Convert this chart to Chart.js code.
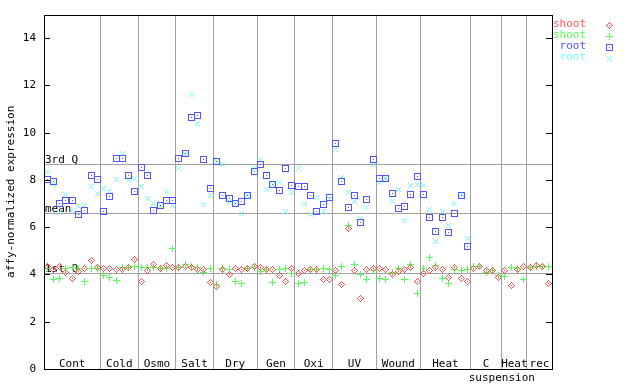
<!DOCTYPE html>
<html>
<head>
<meta charset="utf-8">
<script src="https://cdn.jsdelivr.net/npm/chart.js@4"></script>
<style>
  body { margin: 0; background: #fff; }
  #wrap { width: 640px; height: 384px; }
</style>
</head>
<body>
<div id="wrap"><canvas id="chart"></canvas></div>
<script>
// sample groups along the x axis (one sample per x step)
const groups = ['Cont', 'Cold', 'Osmo', 'Salt', 'Dry', 'Gen', 'Oxi', 'UV', 'Wound', 'Heat', 'C', 'Heat', 'rec'];
const groupSizes = [9, 6, 6, 6, 7, 6, 6, 7, 7, 8, 5, 4, 4];

const yTicks = [0, 2, 4, 6, 8, 10, 12, 14];

const refLines = [4.08, 6.61, 8.68];
const refLabels = ['1st Q', 'mean', '3rd Q'];

const shootA = [
  4.33, 4.21, 4.33, 4.08, 3.83, 4.12, 4.25, 4.59, 4.29,
  4.25, 4.25, 4.21, 4.21, 4.29, 4.63,
  3.70, 4.16, 4.42, 4.25, 4.38, 4.29,
  4.29, 4.33, 4.29, 4.21, 4.21, 3.66,
  3.49, 4.21, 4.00, 4.25, 4.21, 4.25, 4.33,
  4.29, 4.21, 4.21, 3.95, 3.70, 4.25,
  4.04, 4.16, 4.21, 4.21, 3.78, 3.78,
  4.16, 3.57, 5.94, 4.16, 2.97, 4.21, 4.25,
  4.25, 4.21, 4.00, 4.12, 4.21, 4.29, 3.70,
  4.04, 4.16, 4.29, 4.21, 3.87, 4.29, 3.83, 3.70,
  4.25, 4.33, 4.16, 4.16, 3.87,
  4.16, 3.53, 4.21, 4.33,
  4.29, 4.38, 4.33, 3.62
];
const shootB = [
  4.25, 3.78, 3.83, 4.25, 4.29, 4.25, 3.70, 4.25, 4.25,
  3.95, 3.87, 3.74, 4.29, 4.29, 4.33,
  4.29, 4.29, 4.29, 4.25, 4.25, 5.09,
  4.29, 4.42, 4.33, 4.29, 4.08, 4.25,
  3.57, 4.25, 4.21, 3.70, 3.62, 4.25, 4.29,
  4.12, 4.21, 3.66, 4.21, 4.25, 4.04,
  3.62, 3.66, 4.21, 4.21, 4.25, 4.21,
  3.95, 4.33, 6.08, 4.42, 4.00, 3.78, 4.16,
  3.83, 3.78, 4.08, 4.25, 3.78, 4.42, 3.21,
  4.25, 4.71, 4.38, 3.83, 3.62, 4.21, 4.16, 4.21,
  4.33, 4.33, 4.08, 4.16, 3.95,
  3.91, 4.29, 4.25, 3.78,
  4.29, 4.33, 4.33, 4.33
];
// root has no samples in the last three groups
const rootA = [
  8.04, 7.93, 7.00, 7.12, 7.12, 6.53, 6.70, 8.21, 8.00,
  6.65, 7.30, 8.89, 8.89, 8.21, 7.53,
  8.52, 8.21, 6.70, 6.91, 7.12, 7.12,
  8.89, 9.14, 10.66, 10.75, 8.85, 7.62,
  8.79, 7.33, 7.20, 6.99, 7.07, 7.33, 8.38,
  8.64, 8.21, 7.79, 7.54, 8.47, 7.75,
  7.71, 7.71, 7.33, 6.65, 6.95, 7.24,
  9.56, 7.92, 6.82, 7.33, 6.19, 7.16, 8.85,
  8.05, 8.05, 7.41, 6.78, 6.86, 7.37, 8.13,
  7.37, 6.40, 5.81, 6.40, 5.77, 6.57, 7.33, 5.18
];
const rootB = [
  8.33, 7.79, 6.64, 7.38, 6.71, 6.88, 6.91, 7.72, 7.41,
  7.62, 7.51, 8.02, 9.10, 8.02, 8.05,
  7.72, 7.20, 7.00, 6.88, 7.50, 6.91,
  8.47, 9.06, 11.63, 10.41, 6.95, 7.33,
  8.79, 8.64, 7.07, 7.00, 6.57, 7.33, 8.47,
  8.81, 7.58, 7.79, 7.88, 6.65, 7.46,
  8.47, 6.95, 6.53, 7.24, 6.65, 7.16,
  9.27, 8.09, 7.46, 7.07, 6.36, 6.82, 8.64,
  7.88, 8.05, 7.07, 7.58, 6.27, 7.75, 7.79,
  7.75, 6.74, 5.39, 6.65, 6.06, 6.99, 7.37, 5.51
];

const nSamples = groupSizes.reduce((a, b) => a + b, 0);
const FONT = '11px "DejaVu Sans Mono", monospace';

// little pixel markers like the gnuplot ones
function marker(kind, color) {
  const c = document.createElement('canvas');
  c.width = 7; c.height = 7;
  const g = c.getContext('2d');
  g.fillStyle = color;
  for (let y = 0; y < 7; y++) {
    for (let x = 0; x < 7; x++) {
      const dx = Math.abs(x - 3), dy = Math.abs(y - 3);
      let on = false;
      if (kind === 'diamond') on = dx + dy === 3 || (dx + dy === 1 && dx === dy) || (dx === 0 && dy === 0);
      if (kind === 'plus') on = dx === 0 || dy === 0;
      if (kind === 'square') on = dx === 3 || dy === 3 || (dx === 0 && dy === 0);
      if (kind === 'cross') on = dx === dy && dx <= 2;
      if (on) g.fillRect(x, y, 1, 1);
    }
  }
  return c;
}

const series = [
  { label: 'shoot', values: shootA, color: '#ff5252', kind: 'diamond' },
  { label: 'shoot', values: shootB, color: '#52ff52', kind: 'plus' },
  { label: 'root', values: rootA, color: '#5252ff', kind: 'square' },
  { label: 'root', values: rootB, color: '#6cffff', kind: 'cross' }
];
series.forEach(s => { s.img = marker(s.kind, s.color); });

const boundaries = [];
let acc = 0;
groupSizes.forEach(n => { acc += n; boundaries.push(acc + 0.5); });
boundaries.pop();

const extras = {
  id: 'extras',
  beforeDatasetsDraw(chart) {
    const { ctx, chartArea: a, scales: { x, y } } = chart;
    ctx.save();
    ctx.strokeStyle = '#a0a0a0';
    ctx.lineWidth = 1;
    ctx.font = FONT;
    ctx.fillStyle = '#000';
    ctx.textAlign = 'left';
    ctx.textBaseline = 'alphabetic';
    refLines.forEach((v, i) => {
      const py = Math.round(y.getPixelForValue(v)) + 0.5;
      ctx.beginPath();
      ctx.moveTo(a.left, py);
      ctx.lineTo(a.right, py);
      ctx.stroke();
      ctx.fillText(refLabels[i], a.left + 1, py - 1.5);
    });
    ctx.imageSmoothingEnabled = false;
    ctx.restore();
    ctx.imageSmoothingEnabled = false;
  },
  afterDraw(chart) {
    const { ctx, chartArea: a, scales: { x, y } } = chart;
    ctx.save();
    ctx.strokeStyle = '#000';
    ctx.lineWidth = 1;
    ctx.strokeRect(Math.round(a.left) + 0.5, Math.round(a.top) + 0.5,
      Math.round(a.right - a.left), Math.round(a.bottom - a.top));
    y.ticks.forEach(t => {
      const py = Math.round(y.getPixelForValue(t.value)) + 0.5;
      ctx.beginPath();
      ctx.moveTo(a.left, py); ctx.lineTo(a.left + 6, py);
      ctx.moveTo(a.right - 6, py); ctx.lineTo(a.right, py);
      ctx.stroke();
    });

    // group names inside the bottom of the plot
    ctx.font = FONT;
    ctx.fillStyle = '#000';
    ctx.textAlign = 'center';
    ctx.textBaseline = 'alphabetic';
    let start = 0.5;
    groupSizes.forEach((n, i) => {
      const cx = x.getPixelForValue(start + n / 2);
      ctx.fillText(groups[i], cx, a.bottom - 2);
      if (groups[i] === 'C') {
        ctx.fillText('suspension', x.getPixelForValue(start + n), a.bottom + 12);
      }
      start += n;
    });

    // legend
    ctx.textAlign = 'right';
    ctx.textBaseline = 'middle';
    series.forEach((s, i) => {
      const ry = a.top + 10 + i * 11;
      ctx.fillStyle = s.color;
      ctx.fillText(s.label, a.right + 34, ry);
      ctx.imageSmoothingEnabled = false;
      ctx.drawImage(s.img, a.right + 54, Math.round(ry) - 3);
    });
    ctx.restore();
  }
};

new Chart(document.getElementById('chart'), {
  type: 'scatter',
  data: {
    datasets: series.map(s => ({
      label: s.label,
      data: s.values.map((v, i) => ({ x: i + 1, y: v })),
      pointStyle: s.img,
      pointRadius: 3,
      borderColor: s.color,
      backgroundColor: s.color
    }))
  },
  options: {
    responsive: true,
    maintainAspectRatio: false,
    animation: false,
    devicePixelRatio: 1,
    layout: { padding: { top: 13, right: 88, left: 0, bottom: 0 } },
    plugins: { legend: { display: false }, tooltip: { enabled: false } },
    scales: {
      x: {
        type: 'linear',
        min: 0.5,
        max: nSamples + 0.5,
        afterBuildTicks: s => { s.ticks = boundaries.map(v => ({ value: v })); },
        afterFit: s => { s.height = 15; },
        grid: { color: '#a0a0a0', drawTicks: false },
        border: { display: false },
        ticks: { display: false }
      },
      y: {
        min: 0,
        max: 15,
        afterBuildTicks: s => { s.ticks = yTicks.map(v => ({ value: v })); },
        afterFit: s => { s.width = 44; },
        grid: { display: false, drawTicks: false },
        border: { display: false },
        ticks: { font: { family: '"DejaVu Sans Mono", monospace', size: 11 }, color: '#000', padding: 8 },
        title: {
          display: true,
          text: 'affy-normalized expression',
          font: { family: '"DejaVu Sans Mono", monospace', size: 11 },
          color: '#000',
          padding: { top: 5, bottom: 0 }
        }
      }
    }
  },
  plugins: [extras]
});
</script>
</body>
</html>
